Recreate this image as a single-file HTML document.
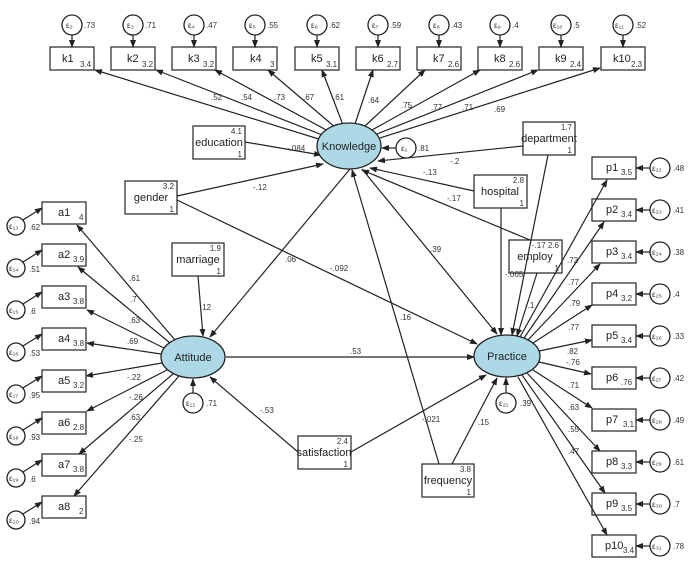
<!DOCTYPE html>
<html><head><meta charset="utf-8"><style>
html,body{margin:0;padding:0;background:#fff;}
svg{display:block;font-family:"Liberation Sans",sans-serif;}
.b{fill:#fff;stroke:#333;stroke-width:1.3;}
.l{stroke:#222;stroke-width:1.2;fill:none;marker-end:url(#ar);}
.c{fill:#fff;stroke:#222;stroke-width:1.3;}
.e{fill:#add8e6;stroke:#222;stroke-width:1.3;}
.n{font-size:11px;fill:#222;}
.s{font-size:8px;fill:#333;}
.t{font-size:8px;fill:#333;}
</style></head><body>
<svg width="700" height="567" viewBox="0 0 700 567">
<defs><marker id="ar" markerWidth="8" markerHeight="6" refX="7" refY="3" orient="auto" markerUnits="userSpaceOnUse"><path d="M0,0 L8,3 L0,6 z" fill="#222"/></marker></defs>

<!-- K boxes -->
<g>
<rect class="b" x="50" y="47" width="44" height="23"/><text class="n" x="62" y="62">k1</text><text class="s" x="80" y="67">3.4</text>
<rect class="b" x="111" y="47" width="44" height="23"/><text class="n" x="127" y="62">k2</text><text class="s" x="142" y="67">3.2</text>
<rect class="b" x="172" y="47" width="44" height="23"/><text class="n" x="188" y="62">k3</text><text class="s" x="203" y="67">3.2</text>
<rect class="b" x="233" y="47" width="44" height="23"/><text class="n" x="250" y="62">k4</text><text class="s" x="270" y="67">3</text>
<rect class="b" x="295" y="47" width="44" height="23"/><text class="n" x="311" y="62">k5</text><text class="s" x="326" y="67">3.1</text>
<rect class="b" x="356" y="47" width="44" height="23"/><text class="n" x="372" y="62">k6</text><text class="s" x="387" y="67">2.7</text>
<rect class="b" x="417" y="47" width="44" height="23"/><text class="n" x="433" y="62">k7</text><text class="s" x="448" y="67">2.6</text>
<rect class="b" x="478" y="47" width="44" height="23"/><text class="n" x="494" y="62">k8</text><text class="s" x="509" y="67">2.6</text>
<rect class="b" x="539" y="47" width="44" height="23"/><text class="n" x="555" y="62">k9</text><text class="s" x="570" y="67">2.4</text>
<rect class="b" x="601" y="47" width="44" height="23"/><text class="n" x="613" y="62">k10</text><text class="s" x="631" y="67">2.3</text>
</g>
<!-- K errors -->
<g>
<circle class="c" cx="72" cy="25" r="10"/><text class="s" x="66" y="28">ε₂</text><text class="s" x="84" y="28">.73</text><line class="l" x1="72" y1="35" x2="72" y2="47"/>
<circle class="c" cx="133" cy="25" r="10"/><text class="s" x="127" y="28">ε₃</text><text class="s" x="145" y="28">.71</text><line class="l" x1="133" y1="35" x2="133" y2="47"/>
<circle class="c" cx="194" cy="25" r="10"/><text class="s" x="188" y="28">ε₄</text><text class="s" x="206" y="28">.47</text><line class="l" x1="194" y1="35" x2="194" y2="47"/>
<circle class="c" cx="255" cy="25" r="10"/><text class="s" x="249" y="28">ε₅</text><text class="s" x="267" y="28">.55</text><line class="l" x1="255" y1="35" x2="255" y2="47"/>
<circle class="c" cx="317" cy="25" r="10"/><text class="s" x="311" y="28">ε₆</text><text class="s" x="329" y="28">.62</text><line class="l" x1="317" y1="35" x2="317" y2="47"/>
<circle class="c" cx="378" cy="25" r="10"/><text class="s" x="372" y="28">ε₇</text><text class="s" x="390" y="28">.59</text><line class="l" x1="378" y1="35" x2="378" y2="47"/>
<circle class="c" cx="439" cy="25" r="10"/><text class="s" x="433" y="28">ε₈</text><text class="s" x="451" y="28">.43</text><line class="l" x1="439" y1="35" x2="439" y2="47"/>
<circle class="c" cx="500" cy="25" r="10"/><text class="s" x="494" y="28">ε₉</text><text class="s" x="512" y="28">.4</text><line class="l" x1="500" y1="35" x2="500" y2="47"/>
<circle class="c" cx="561" cy="25" r="10"/><text class="s" x="553" y="28">ε₁₀</text><text class="s" x="573" y="28">.5</text><line class="l" x1="561" y1="35" x2="561" y2="47"/>
<circle class="c" cx="623" cy="25" r="10"/><text class="s" x="615" y="28">ε₁₁</text><text class="s" x="635" y="28">.52</text><line class="l" x1="623" y1="35" x2="623" y2="47"/>
</g>
<!-- Knowledge to k -->
<g>
<line class="l" x1="322" y1="140" x2="95" y2="70"/>
<line class="l" x1="325" y1="136" x2="156" y2="70"/>
<line class="l" x1="330" y1="132" x2="215" y2="70"/>
<line class="l" x1="336" y1="128" x2="268" y2="70"/>
<line class="l" x1="343" y1="125" x2="322" y2="70"/>
<line class="l" x1="355" y1="124" x2="373" y2="70"/>
<line class="l" x1="365" y1="126" x2="425" y2="70"/>
<line class="l" x1="372" y1="130" x2="480" y2="70"/>
<line class="l" x1="377" y1="134" x2="538" y2="70"/>
<line class="l" x1="380" y1="138" x2="600" y2="68"/>
<text class="t" x="211" y="100">.52</text><text class="t" x="241" y="100">.54</text><text class="t" x="274" y="100">.73</text><text class="t" x="303" y="100">.67</text><text class="t" x="333" y="100">.61</text>
<text class="t" x="368" y="103">.64</text><text class="t" x="401" y="108">.75</text><text class="t" x="431" y="110">.77</text><text class="t" x="462" y="110">.71</text><text class="t" x="494" y="112">.69</text>
</g>

<!-- exogenous boxes -->
<rect class="b" x="193" y="126" width="52" height="33"/><text class="s" x="242" y="134" text-anchor="end">4.1</text><text class="n" x="219" y="146" text-anchor="middle">education</text><text class="s" x="242" y="157" text-anchor="end">1</text>
<rect class="b" x="523" y="122" width="52" height="33"/><text class="s" x="572" y="130" text-anchor="end">1.7</text><text class="n" x="549" y="142" text-anchor="middle">department</text><text class="s" x="572" y="153" text-anchor="end">1</text>
<rect class="b" x="125" y="181" width="52" height="33"/><text class="s" x="174" y="189" text-anchor="end">3.2</text><text class="n" x="151" y="201" text-anchor="middle">gender</text><text class="s" x="174" y="212" text-anchor="end">1</text>
<rect class="b" x="474" y="175" width="53" height="33"/><text class="s" x="524" y="183" text-anchor="end">2.8</text><text class="n" x="500" y="195" text-anchor="middle">hospital</text><text class="s" x="524" y="206" text-anchor="end">1</text>
<rect class="b" x="509" y="240" width="53" height="33"/><text class="s" x="559" y="248" text-anchor="end">-.17 2.6</text><text class="n" x="535" y="260" text-anchor="middle">employ</text><text class="s" x="559" y="271" text-anchor="end">1</text>
<rect class="b" x="172" y="243" width="52" height="33"/><text class="s" x="221" y="251" text-anchor="end">1.9</text><text class="n" x="198" y="263" text-anchor="middle">marriage</text><text class="s" x="221" y="274" text-anchor="end">1</text>
<rect class="b" x="298" y="436" width="53" height="33"/><text class="s" x="348" y="444" text-anchor="end">2.4</text><text class="n" x="324" y="456" text-anchor="middle">satisfaction</text><text class="s" x="348" y="467" text-anchor="end">1</text>
<rect class="b" x="422" y="464" width="52" height="33"/><text class="s" x="471" y="472" text-anchor="end">3.8</text><text class="n" x="448" y="484" text-anchor="middle">frequency</text><text class="s" x="471" y="495" text-anchor="end">1</text>

<!-- structural paths -->
<line class="l" x1="245" y1="142" x2="321" y2="155"/><text class="t" x="287" y="151">-.084</text>
<line class="l" x1="523" y1="146" x2="378" y2="161"/><text class="t" x="450" y="164">-.2</text>
<line class="l" x1="177" y1="196" x2="323" y2="164"/><text class="t" x="253" y="190">-.12</text>
<line class="l" x1="177" y1="200" x2="477" y2="344"/><text class="t" x="330" y="271">-.092</text>
<line class="l" x1="474" y1="191" x2="370" y2="168"/><text class="t" x="423" y="175">-.13</text>
<line class="l" x1="530" y1="240" x2="362" y2="170"/><text class="t" x="447" y="201">-.17</text>
<line class="l" x1="350" y1="169" x2="210" y2="337"/><text class="t" x="285" y="262">.06</text>
<line class="l" x1="362" y1="169" x2="497" y2="334"/><text class="t" x="430" y="252">.39</text>
<line class="l" x1="198" y1="276" x2="203" y2="336"/><text class="t" x="200" y="310">.12</text>
<line class="l" x1="226" y1="357" x2="474" y2="357"/><text class="t" x="350" y="354">.53</text>
<line class="l" x1="298" y1="452" x2="210" y2="377"/><text class="t" x="260" y="413">-.53</text>
<line class="l" x1="351" y1="452" x2="486" y2="375"/><text class="t" x="422" y="422">-.021</text>
<line class="l" x1="439" y1="464" x2="352" y2="170"/><text class="t" x="400" y="320">.16</text>
<line class="l" x1="452" y1="464" x2="497" y2="378"/><text class="t" x="478" y="425">.15</text>
<line class="l" x1="548" y1="155" x2="512" y2="335"/>
<line class="l" x1="501" y1="208" x2="501" y2="335"/><text class="t" x="505" y="277">-.065</text>
<line class="l" x1="537" y1="273" x2="517" y2="336"/><text class="t" x="525" y="308">-.1</text>

<!-- latent -->
<ellipse class="e" cx="349" cy="146" rx="32" ry="23"/><text class="n" x="349" y="150" text-anchor="middle">Knowledge</text>
<circle class="c" cx="406" cy="148" r="10"/><text class="s" x="401" y="151">ε₁</text><text class="s" x="418" y="151">.81</text><line class="l" x1="396" y1="148" x2="382" y2="148"/>
<ellipse class="e" cx="193" cy="357" rx="32" ry="21"/><text class="n" x="193" y="361" text-anchor="middle">Attitude</text>
<circle class="c" cx="193" cy="403" r="10"/><text class="s" x="186" y="406">ε₁₂</text><text class="s" x="206" y="406">.71</text><line class="l" x1="193" y1="393" x2="193" y2="379"/>
<ellipse class="e" cx="507" cy="356" rx="33" ry="21"/><text class="n" x="507" y="360" text-anchor="middle">Practice</text>
<circle class="c" cx="506" cy="403" r="10"/><text class="s" x="499" y="406">ε₂₁</text><text class="s" x="520" y="406">.39</text><line class="l" x1="506" y1="393" x2="506" y2="378"/>

<!-- a boxes -->
<g>
<rect class="b" x="42" y="202" width="44" height="22"/><text class="n" x="58" y="216">a1</text><text class="s" x="79" y="220">4</text>
<rect class="b" x="42" y="244" width="44" height="22"/><text class="n" x="58" y="258">a2</text><text class="s" x="73" y="262">3.9</text>
<rect class="b" x="42" y="286" width="44" height="22"/><text class="n" x="58" y="300">a3</text><text class="s" x="73" y="304">3.8</text>
<rect class="b" x="42" y="328" width="44" height="22"/><text class="n" x="58" y="342">a4</text><text class="s" x="73" y="346">3.8</text>
<rect class="b" x="42" y="370" width="44" height="22"/><text class="n" x="58" y="384">a5</text><text class="s" x="73" y="388">3.2</text>
<rect class="b" x="42" y="412" width="44" height="22"/><text class="n" x="58" y="426">a6</text><text class="s" x="73" y="430">2.8</text>
<rect class="b" x="42" y="454" width="44" height="22"/><text class="n" x="58" y="468">a7</text><text class="s" x="73" y="472">3.8</text>
<rect class="b" x="42" y="496" width="44" height="22"/><text class="n" x="58" y="510">a8</text><text class="s" x="79" y="514">2</text>
</g>
<g>
<circle class="c" cx="16" cy="226" r="9"/><text class="s" x="9" y="229">ε₁₃</text><text class="s" x="29" y="230">.62</text><line class="l" x1="23" y1="220" x2="42" y2="208"/>
<circle class="c" cx="16" cy="268" r="9"/><text class="s" x="9" y="271">ε₁₄</text><text class="s" x="29" y="272">.51</text><line class="l" x1="23" y1="262" x2="42" y2="250"/>
<circle class="c" cx="16" cy="310" r="9"/><text class="s" x="9" y="313">ε₁₅</text><text class="s" x="29" y="314">.6</text><line class="l" x1="23" y1="304" x2="42" y2="292"/>
<circle class="c" cx="16" cy="352" r="9"/><text class="s" x="9" y="355">ε₁₆</text><text class="s" x="29" y="356">.53</text><line class="l" x1="23" y1="346" x2="42" y2="334"/>
<circle class="c" cx="16" cy="394" r="9"/><text class="s" x="9" y="397">ε₁₇</text><text class="s" x="29" y="398">.95</text><line class="l" x1="23" y1="388" x2="42" y2="376"/>
<circle class="c" cx="16" cy="436" r="9"/><text class="s" x="9" y="439">ε₁₈</text><text class="s" x="29" y="440">.93</text><line class="l" x1="23" y1="430" x2="42" y2="418"/>
<circle class="c" cx="16" cy="478" r="9"/><text class="s" x="9" y="481">ε₁₉</text><text class="s" x="29" y="482">.6</text><line class="l" x1="23" y1="472" x2="42" y2="460"/>
<circle class="c" cx="16" cy="520" r="9"/><text class="s" x="9" y="523">ε₂₀</text><text class="s" x="29" y="524">.94</text><line class="l" x1="23" y1="514" x2="42" y2="502"/>
</g>
<g>
<line class="l" x1="175" y1="340" x2="77" y2="225"/>
<line class="l" x1="170" y1="343" x2="78" y2="267"/>
<line class="l" x1="164" y1="348" x2="87" y2="310"/>
<line class="l" x1="161" y1="354" x2="87" y2="343"/>
<line class="l" x1="162" y1="363" x2="86" y2="376"/>
<line class="l" x1="167" y1="370" x2="87" y2="411"/>
<line class="l" x1="173" y1="374" x2="79" y2="454"/>
<line class="l" x1="179" y1="376" x2="74" y2="496"/>
<text class="t" x="129" y="281">.61</text><text class="t" x="130" y="302">.7</text><text class="t" x="129" y="323">.63</text><text class="t" x="127" y="344">.69</text>
<text class="t" x="127" y="380">-.22</text><text class="t" x="129" y="400">-.26</text><text class="t" x="129" y="420">.63</text><text class="t" x="129" y="442">-.25</text>
</g>

<!-- p boxes -->
<g>
<rect class="b" x="592" y="157" width="44" height="22"/><text class="n" x="606" y="171">p1</text><text class="s" x="621" y="175">3.5</text>
<rect class="b" x="592" y="199" width="44" height="22"/><text class="n" x="606" y="213">p2</text><text class="s" x="621" y="217">3.4</text>
<rect class="b" x="592" y="241" width="44" height="22"/><text class="n" x="606" y="255">p3</text><text class="s" x="621" y="259">3.4</text>
<rect class="b" x="592" y="283" width="44" height="22"/><text class="n" x="606" y="297">p4</text><text class="s" x="621" y="301">3.2</text>
<rect class="b" x="592" y="325" width="44" height="22"/><text class="n" x="606" y="339">p5</text><text class="s" x="621" y="343">3.4</text>
<rect class="b" x="592" y="367" width="44" height="22"/><text class="n" x="606" y="381">p6</text><text class="s" x="621" y="385">.76</text>
<rect class="b" x="592" y="409" width="44" height="22"/><text class="n" x="606" y="423">p7</text><text class="s" x="623" y="427">3.1</text>
<rect class="b" x="592" y="451" width="44" height="22"/><text class="n" x="606" y="465">p8</text><text class="s" x="621" y="469">3.3</text>
<rect class="b" x="592" y="493" width="44" height="22"/><text class="n" x="606" y="507">p9</text><text class="s" x="621" y="511">3.5</text>
<rect class="b" x="592" y="535" width="44" height="22"/><text class="n" x="605" y="549">p10</text><text class="s" x="623" y="553">3.4</text>
</g>
<g>
<circle class="c" cx="660" cy="168" r="10"/><text class="s" x="652" y="171">ε₂₂</text><text class="s" x="673" y="171">.48</text><line class="l" x1="650" y1="168" x2="636" y2="168"/>
<circle class="c" cx="660" cy="210" r="10"/><text class="s" x="652" y="213">ε₂₃</text><text class="s" x="673" y="213">.41</text><line class="l" x1="650" y1="210" x2="636" y2="210"/>
<circle class="c" cx="660" cy="252" r="10"/><text class="s" x="652" y="255">ε₂₄</text><text class="s" x="673" y="255">.38</text><line class="l" x1="650" y1="252" x2="636" y2="252"/>
<circle class="c" cx="660" cy="294" r="10"/><text class="s" x="652" y="297">ε₂₅</text><text class="s" x="673" y="297">.4</text><line class="l" x1="650" y1="294" x2="636" y2="294"/>
<circle class="c" cx="660" cy="336" r="10"/><text class="s" x="652" y="339">ε₂₆</text><text class="s" x="673" y="339">.33</text><line class="l" x1="650" y1="336" x2="636" y2="336"/>
<circle class="c" cx="660" cy="378" r="10"/><text class="s" x="652" y="381">ε₂₇</text><text class="s" x="673" y="381">.42</text><line class="l" x1="650" y1="378" x2="636" y2="378"/>
<circle class="c" cx="660" cy="420" r="10"/><text class="s" x="652" y="423">ε₂₈</text><text class="s" x="673" y="423">.49</text><line class="l" x1="650" y1="420" x2="636" y2="420"/>
<circle class="c" cx="660" cy="462" r="10"/><text class="s" x="652" y="465">ε₂₉</text><text class="s" x="673" y="465">.61</text><line class="l" x1="650" y1="462" x2="636" y2="462"/>
<circle class="c" cx="660" cy="504" r="10"/><text class="s" x="652" y="507">ε₃₀</text><text class="s" x="673" y="507">.7</text><line class="l" x1="650" y1="504" x2="636" y2="504"/>
<circle class="c" cx="660" cy="546" r="10"/><text class="s" x="652" y="549">ε₃₁</text><text class="s" x="673" y="549">.78</text><line class="l" x1="650" y1="546" x2="636" y2="546"/>
</g>
<g>
<line class="l" x1="520" y1="337" x2="607" y2="180"/>
<line class="l" x1="524" y1="338" x2="604" y2="222"/>
<line class="l" x1="528" y1="340" x2="600" y2="264"/>
<line class="l" x1="533" y1="343" x2="592" y2="305"/>
<line class="l" x1="539" y1="351" x2="592" y2="340"/>
<line class="l" x1="539" y1="362" x2="591" y2="374"/>
<line class="l" x1="533" y1="370" x2="592" y2="408"/>
<line class="l" x1="527" y1="373" x2="600" y2="451"/>
<line class="l" x1="522" y1="375" x2="605" y2="493"/>
<line class="l" x1="518" y1="377" x2="607" y2="535"/>
<text class="t" x="567" y="263">.72</text><text class="t" x="568" y="285">.77</text><text class="t" x="569" y="306">.79</text><text class="t" x="568" y="330">.77</text>
<text class="t" x="567" y="354">.82</text><text class="t" x="566" y="365">-.76</text><text class="t" x="568" y="388">.71</text><text class="t" x="568" y="410">.63</text>
<text class="t" x="568" y="432">.55</text><text class="t" x="568" y="454">.47</text>
</g>
</svg>
</body></html>
